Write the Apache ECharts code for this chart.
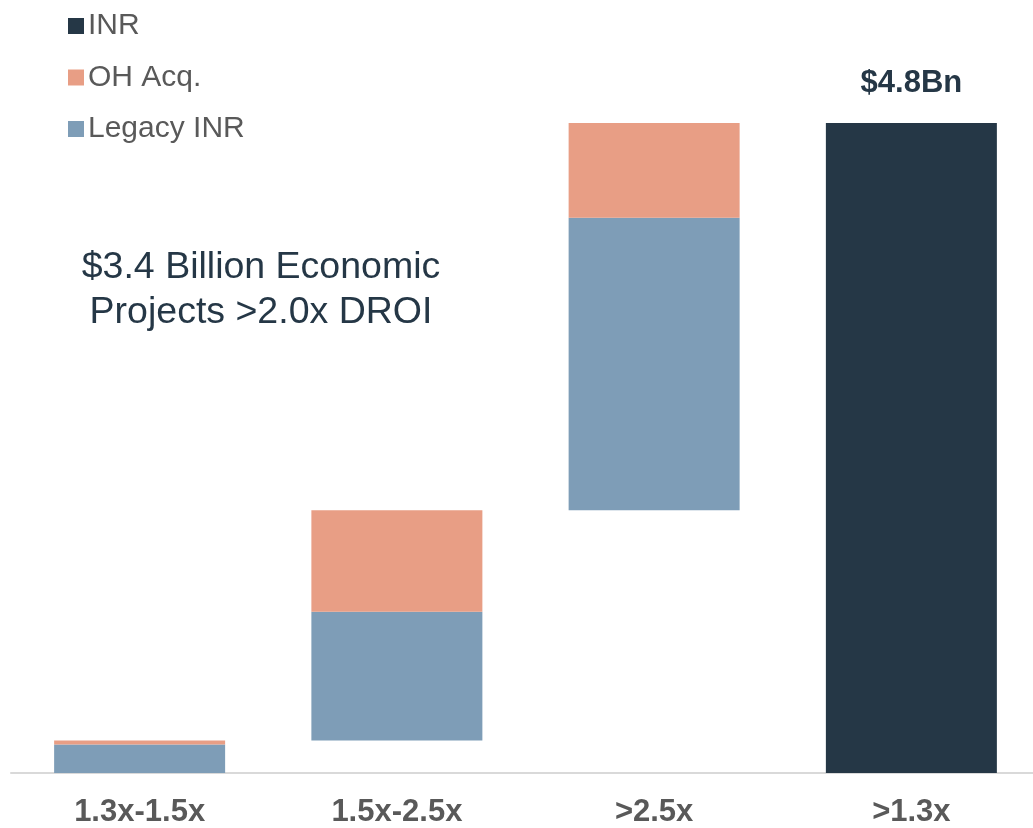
<!DOCTYPE html>
<html>
<head>
<meta charset="utf-8">
<script src="https://cdn.jsdelivr.net/npm/echarts@6/dist/echarts.min.js"></script>
<style>html,body{margin:0;padding:0;background:#fff;overflow:hidden}#c{width:1040px;height:828px}</style>
</head>
<body>
<div id="c"></div>
<script>
const categories = ['1.3x-1.5x', '1.5x-2.5x', '>2.5x', '>1.3x'];
const legacyINR = [0.21, 0.95, 2.16, '-'];
const ohAcq = [0.03, 0.75, 0.70, '-'];
const inrTotal = ['-', '-', '-', 4.8];
const totalLabel = '$4.8Bn';
const annotation = '$3.4 Billion Economic\nProjects >2.0x DROI';

// invisible base for the waterfall: cumulative of previous steps
const base = [];
let run = 0;
for (let i = 0; i < categories.length; i++) {
  if (inrTotal[i] !== '-') { base.push(0); continue; }
  base.push(run);
  run += (legacyINR[i] === '-' ? 0 : legacyINR[i]) + (ohAcq[i] === '-' ? 0 : ohAcq[i]);
}

const FONT = '"Liberation Sans", Arial, sans-serif';
const chart = echarts.init(document.getElementById('c'), null, {renderer: 'canvas'});
chart.setOption({
  animation: false,
  grid: {left: 11, right: 0, top: 123, bottom: 53, containLabel: false},
  legend: {
    orient: 'vertical', left: 68, top: 11, padding: 0,
    itemWidth: 16, itemHeight: 16, itemGap: 21.5,
    icon: 'rect',
    data: ['INR', 'OH Acq.', 'Legacy INR'],
    textStyle: {fontFamily: FONT, fontSize: 30, color: '#595959', lineHeight: 30, padding: [0, 0, 0, -1]}
  },
  xAxis: {
    type: 'category', data: categories,
    axisLine: {lineStyle: {color: '#d9d9d9', width: 2}},
    axisTick: {show: false},
    axisLabel: {fontFamily: FONT, fontSize: 31, fontWeight: 'bold', color: '#595959', margin: 24}
  },
  yAxis: {type: 'value', min: 0, max: 4.8, show: false, splitLine: {show: false}},
  graphic: [{
    type: 'text', x: 261, y: 290,
    style: {text: annotation, fontFamily: FONT, fontSize: 37.5, fill: '#253746',
            textAlign: 'center', textVerticalAlign: 'middle', align: 'center', verticalAlign: 'middle', lineHeight: 45}
  }],
  series: [
    {name: 'base', type: 'bar', stack: 's', data: base, barWidth: 171,
     itemStyle: {color: 'transparent'}, emphasis: {disabled: true}, silent: true},
    {name: 'Legacy INR', type: 'bar', stack: 's', data: legacyINR, barWidth: 171,
     itemStyle: {color: '#7E9DB7'}},
    {name: 'OH Acq.', type: 'bar', stack: 's', data: ohAcq, barWidth: 171,
     itemStyle: {color: '#E89E85'}},
    {name: 'INR', type: 'bar', stack: 's', data: inrTotal, barWidth: 171,
     itemStyle: {color: '#253746'},
     label: {show: true, position: 'top', distance: 24, formatter: totalLabel,
             fontFamily: FONT, fontSize: 31, fontWeight: 'bold', color: '#253746'}}
  ]
});
</script>
</body>
</html>
